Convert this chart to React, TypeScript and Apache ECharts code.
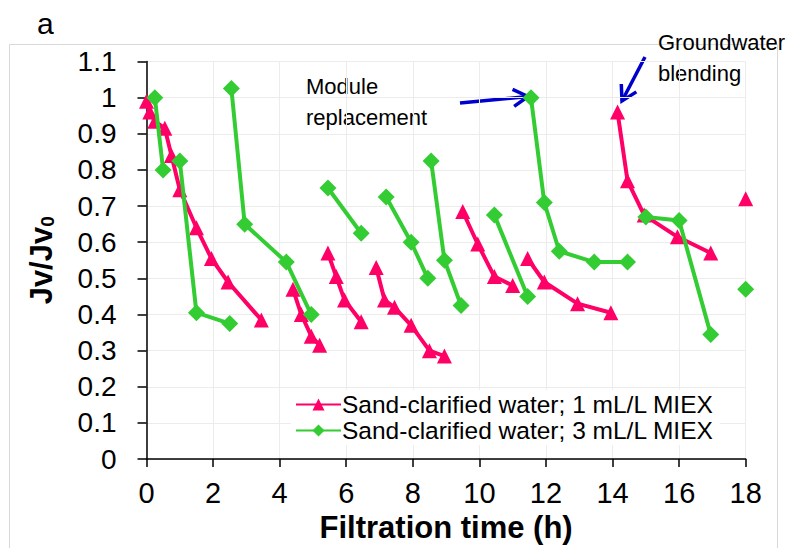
import React, { useEffect, useRef } from "react";
import * as echarts from "echarts";

const seriesNames = ["Sand-clarified water; 1 mL/L MIEX", "Sand-clarified water; 3 mL/L MIEX"];
const seriesColors = ["#FF0066", "#33CC33"];

// filtration runs (time h, Jv/Jv0) for 1 mL/L MIEX
const miex1Runs: number[][][] = [
  [[0, 0.99], [0.1, 0.96], [0.25, 0.935], [0.55, 0.915], [0.75, 0.84], [1.0, 0.745], [1.5, 0.64], [1.95, 0.555], [2.45, 0.49], [3.45, 0.385]],
  [[4.4, 0.47], [4.65, 0.4], [4.95, 0.34], [5.2, 0.315]],
  [[5.45, 0.57], [5.7, 0.505], [5.95, 0.44], [6.45, 0.38]],
  [[6.9, 0.53], [7.15, 0.44], [7.45, 0.42], [7.95, 0.37], [8.5, 0.3], [8.95, 0.285]],
  [[9.5, 0.685], [9.95, 0.595], [10.45, 0.505], [11.0, 0.48]],
  [[11.45, 0.555], [11.95, 0.49], [12.95, 0.43], [13.95, 0.405]],
  [[14.15, 0.96], [14.45, 0.77], [14.95, 0.675], [15.95, 0.615], [16.95, 0.57]],
  [[18, 0.72]],
];

// filtration runs (time h, Jv/Jv0) for 3 mL/L MIEX
const miex3Runs: number[][][] = [
  [[0.25, 1.0], [0.5, 0.8]],
  [[1.0, 0.825], [1.5, 0.405], [2.5, 0.375]],
  [[2.55, 1.025], [2.95, 0.65], [4.2, 0.545], [4.95, 0.4]],
  [[5.45, 0.75], [6.45, 0.625]],
  [[7.2, 0.725], [7.95, 0.6], [8.45, 0.5]],
  [[8.55, 0.825], [8.95, 0.55], [9.45, 0.425]],
  [[10.45, 0.675], [11.45, 0.45]],
  [[11.55, 1.0], [11.95, 0.71], [12.4, 0.575], [13.45, 0.545], [14.45, 0.545]],
  [[15.0, 0.67], [16.0, 0.66], [16.95, 0.345]],
  [[18, 0.47]],
];

const xTicks = { min: 0, max: 18, interval: 2 };
const yTicks = { min: 0, max: 1.1, interval: 0.1 };

const FONT = "'Liberation Sans', Arial, sans-serif";

function arrow(x1: number, y1: number, x2: number, y2: number) {
  const ang = Math.atan2(y2 - y1, x2 - x1);
  const L = 17;
  const a = (30 * Math.PI) / 180;
  const p1 = [x2 - L * Math.cos(ang - a), y2 - L * Math.sin(ang - a)];
  const p2 = [x2 - L * Math.cos(ang + a), y2 - L * Math.sin(ang + a)];
  const style = { stroke: "#0000CC", lineWidth: 3.5, fill: "none" };
  return {
    type: "group",
    z: 20,
    children: [
      { type: "line", shape: { x1, y1, x2, y2 }, style },
      { type: "polyline", shape: { points: [p1, [x2, y2], p2] }, style },
    ],
  };
}

export default function App() {
  const ref = useRef<HTMLDivElement>(null);
  useEffect(() => {
    if (!ref.current) return;
    const chart = echarts.init(ref.current, null, { renderer: "svg" });
    const mk = (runs: number[][][], idx: number, symbol: string, size: number) =>
      runs.map((run) => ({
        type: "line",
        name: seriesNames[idx],
        data: run,
        symbol,
        symbolSize: size,
        showAllSymbol: true,
        color: seriesColors[idx],
        itemStyle: { color: seriesColors[idx] },
        lineStyle: { color: seriesColors[idx], width: 4 },
        z: 2 + idx,
      }));
    const option: any = {
      animation: false,
      backgroundColor: "#ffffff",
      grid: { left: 146.5, right: 43.3, top: 61.5, bottom: 88.5 },
      xAxis: {
        type: "value",
        min: xTicks.min,
        max: xTicks.max,
        interval: xTicks.interval,
        name: "Filtration time (h)",
        nameLocation: "middle",
        nameGap: 52,
        nameTextStyle: { fontFamily: FONT, fontSize: 31, fontWeight: "bold", color: "#000" },
        axisLine: { lineStyle: { color: "#000", width: 1.5 } },
        axisTick: { show: true, inside: false, length: 8, lineStyle: { color: "#000", width: 1.5 } },
        axisLabel: { fontFamily: FONT, fontSize: 29, color: "#000", margin: 19 },
        splitLine: { show: true, lineStyle: { color: "#ececec", width: 1 } },
      },
      yAxis: {
        type: "value",
        min: yTicks.min,
        max: yTicks.max,
        interval: yTicks.interval,
        name: "{a|Jv/Jv}{b|0}",
        nameLocation: "middle",
        nameGap: 90,
        nameRotate: 90,
        nameTextStyle: {
          fontFamily: FONT,
          color: "#000",
          rich: {
            a: { fontFamily: FONT, fontSize: 31, fontWeight: "bold", color: "#000", lineHeight: 32, verticalAlign: "bottom" },
            b: { fontFamily: FONT, fontSize: 19, fontWeight: "bold", color: "#000", lineHeight: 32, verticalAlign: "bottom", padding: [13, 0, 0, 0] },
          },
        },
        axisLine: { show: true, lineStyle: { color: "#000", width: 1.5 } },
        axisTick: { show: true, inside: false, length: 9, lineStyle: { color: "#000", width: 1.5 } },
        axisLabel: { fontFamily: FONT, fontSize: 28, color: "#000", margin: 30 },
        splitLine: { show: true, lineStyle: { color: "#ececec", width: 1 } },
      },
      legend: {
        orient: "vertical",
        left: 291,
        top: 390,
        itemWidth: 45,
        itemHeight: 15,
        itemGap: 1,
        padding: [2, 6, 2, 4],
        backgroundColor: "#ffffff",
        data: seriesNames,
        textStyle: { fontFamily: FONT, fontSize: 24.5, lineHeight: 24, color: "#000", padding: [0, 0, 0, -4] },
      },
      series: [...mk(miex1Runs, 0, "triangle", 15), ...mk(miex3Runs, 1, "diamond", 17)],
      graphic: [
        { type: "rect", z: -10, silent: true, shape: { x: 9.5, y: 44.5, width: 768, height: 520 }, style: { fill: "none", stroke: "#d9d9d9", lineWidth: 1 } },
        { type: "text", x: 37, y: 8, style: { text: "a", fontFamily: FONT, fontSize: 30, fill: "#000" } },
        { type: "text", x: 306, y: 75, style: { text: "Module", fontFamily: FONT, fontSize: 22, fill: "#000" } },
        { type: "text", x: 306, y: 106, style: { text: "replacement", fontFamily: FONT, fontSize: 22, fill: "#000" } },
        { type: "text", x: 658, y: 31, style: { text: "Groundwater", fontFamily: FONT, fontSize: 22, fill: "#000" } },
        { type: "text", x: 658, y: 62, style: { text: "blending", fontFamily: FONT, fontSize: 22, fill: "#000" } },
        arrow(460, 103, 528, 96.5),
        arrow(645, 57, 622, 101),
      ],
    };
    chart.setOption(option);
    return () => chart.dispose();
  }, []);
  return <div ref={ref} style={{ position: "fixed", left: 0, top: 0, width: 789, height: 548 }} />;
}
